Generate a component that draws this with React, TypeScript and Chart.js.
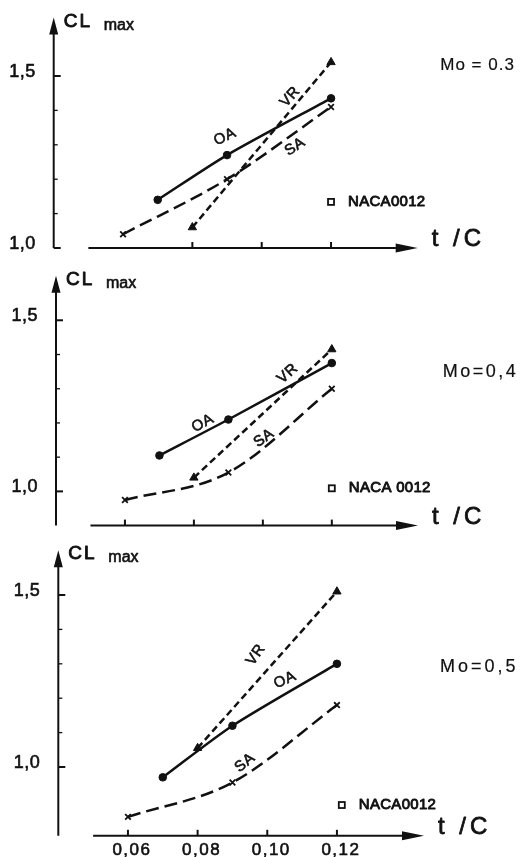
import React, { useEffect, useRef } from "react";
import { Chart, registerables } from "chart.js";

Chart.register(...registerables);

const INK = "#111111";
const FONT = '"Liberation Sans", Arial, Helvetica, sans-serif';

// Thickness ratios t/C of the tested profile families
const OA_T = [0.07, 0.09, 0.12];
const SA_T = [0.06, 0.09, 0.12];
const VR_T = [0.08, 0.12];

// CL max at Mo = 0.3
const OA_CL_M03 = [1.14, 1.27, 1.435];
const SA_CL_M03 = [1.04, 1.2, 1.41];
const VR_CL_M03 = [1.06, 1.54];
// CL max at Mo = 0.4
const OA_CL_M04 = [1.105, 1.21, 1.375];
const SA_CL_M04 = [0.975, 1.055, 1.3];
const VR_CL_M04 = [1.04, 1.415];
// CL max at Mo = 0.5
const OA_CL_M05 = [0.97, 1.12, 1.3];
const SA_CL_M05 = [0.855, 0.955, 1.18];
const VR_CL_M05 = [1.055, 1.51];

const SERIES_NAMES = ["OA", "SA", "VR"];
const MACH_LABELS = ["Mo = 0.3", "Mo=0,4", "Mo=0,5"];
const NACA_LABELS = ["NACA0012", "NACA 0012", "NACA0012"];

const Y_MAJOR = [1.0, 1.5];
const Y_MAJOR_TEXT = ["1,0", "1,5"];
const Y_MINOR = [1.1, 1.2, 1.3, 1.4];
const X_TICKS = [0.06, 0.08, 0.1, 0.12];
const X_TICK_TEXT = ["0,06", "0,08", "0,10", "0,12"];

const X_MIN = 0.04;
const X_MAX = 0.145;
const X_AXIS_START = 0.05;

type Tag = { i: number; x: number; y: number; a: number };
type Panel = {
  top: number;
  height: number;
  padding: { left: number; right: number; top: number; bottom: number };
  yMin: number;
  yMax: number;
  oa: number[];
  sa: number[];
  vr: number[];
  mach: string;
  machAt: [number, number];
  machSize: number;
  machSpacing: number;
  naca: string;
  nacaAt: [number, number];
  xTicks: number[];
  showXText: boolean;
  tags: Tag[];
};

const PANELS: Panel[] = [
  {
    top: 0,
    height: 270,
    padding: { left: 53.7, right: 103.3, top: 17.5, bottom: 22 },
    yMin: 1.0,
    yMax: 1.67,
    oa: OA_CL_M03,
    sa: SA_CL_M03,
    vr: VR_CL_M03,
    mach: MACH_LABELS[0],
    machAt: [0.1515, 1.53],
    machSize: 17,
    machSpacing: 1,
    naca: NACA_LABELS[0],
    nacaAt: [0.12, 1.134],
    xTicks: [0.08, 0.1, 0.12],
    showXText: false,
    tags: [
      { i: 0, x: 0.0894, y: 1.323, a: -25 },
      { i: 2, x: 0.1082, y: 1.439, a: -48 },
      { i: 1, x: 0.1096, y: 1.294, a: -33 },
    ],
  },
  {
    top: 270,
    height: 262,
    padding: { left: 56, right: 103, top: 3, bottom: 6.4 },
    yMin: 0.9,
    yMax: 1.63,
    oa: OA_CL_M04,
    sa: SA_CL_M04,
    vr: VR_CL_M04,
    mach: MACH_LABELS[1],
    machAt: [0.1522, 1.35],
    machSize: 18,
    machSpacing: 2.5,
    naca: NACA_LABELS[1],
    nacaAt: [0.12, 1.009],
    xTicks: X_TICKS,
    showXText: false,
    tags: [
      { i: 0, x: 0.0826, y: 1.199, a: -28 },
      { i: 2, x: 0.1072, y: 1.344, a: -42 },
      { i: 1, x: 0.1003, y: 1.156, a: -35 },
    ],
  },
  {
    top: 532,
    height: 325,
    padding: { left: 58.3, right: 97, top: 18.3, bottom: 21.2 },
    yMin: 0.8,
    yMax: 1.63,
    oa: OA_CL_M05,
    sa: SA_CL_M05,
    vr: VR_CL_M05,
    mach: MACH_LABELS[2],
    machAt: [0.1496, 1.29],
    machSize: 18,
    machSpacing: 3,
    naca: NACA_LABELS[2],
    nacaAt: [0.1214, 0.8895],
    xTicks: X_TICKS,
    showXText: true,
    tags: [
      { i: 2, x: 0.0967, y: 1.326, a: -55 },
      { i: 0, x: 0.1051, y: 1.253, a: -25 },
      { i: 1, x: 0.0936, y: 1.012, a: -40 },
    ],
  },
];

type TextOpts = {
  align?: CanvasTextAlign;
  baseline?: CanvasTextBaseline;
  ls?: number;
  angle?: number;
  heavy?: number;
};

function drawText(
  ctx: CanvasRenderingContext2D,
  s: string,
  x: number,
  y: number,
  size: number,
  o: TextOpts = {}
) {
  ctx.save();
  ctx.font = `normal ${size}px ${FONT}`;
  ctx.fillStyle = INK;
  ctx.strokeStyle = INK;
  ctx.textAlign = o.align || "left";
  ctx.textBaseline = o.baseline || "alphabetic";
  (ctx as any).letterSpacing = `${o.ls || 0}px`;
  ctx.translate(x, y);
  if (o.angle) ctx.rotate((o.angle * Math.PI) / 180);
  ctx.fillText(s, 0, 0);
  // a thin outline gives the lettering the weight of the printed labels
  const heavy = o.heavy === undefined ? 0.6 : o.heavy;
  if (heavy > 0) {
    ctx.lineWidth = heavy;
    ctx.lineJoin = "round";
    ctx.strokeText(s, 0, 0);
  }
  ctx.restore();
}

function makeDecor(p: Panel) {
  return {
    id: "decor",
    beforeDatasetsDraw(chart: any) {
      const ctx: CanvasRenderingContext2D = chart.ctx;
      const { left, right, top, bottom } = chart.chartArea;
      const xs = chart.scales.x;
      const ys = chart.scales.y;
      ctx.save();
      ctx.strokeStyle = INK;
      ctx.fillStyle = INK;
      ctx.lineWidth = 2;
      ctx.lineCap = "butt";

      // vertical axis with arrow head
      ctx.beginPath();
      ctx.moveTo(left, bottom);
      ctx.lineTo(left, top + 12);
      ctx.stroke();
      ctx.beginPath();
      ctx.moveTo(left, top);
      ctx.lineTo(left - 4.5, top + 17);
      ctx.lineTo(left + 4.5, top + 17);
      ctx.closePath();
      ctx.fill();

      // y ticks point inward
      for (const v of Y_MAJOR) {
        const y = ys.getPixelForValue(v);
        ctx.beginPath();
        ctx.moveTo(left, y);
        ctx.lineTo(left + 7, y);
        ctx.stroke();
      }
      ctx.lineWidth = 1.3;
      for (const v of Y_MINOR) {
        const y = ys.getPixelForValue(v);
        ctx.beginPath();
        ctx.moveTo(left, y);
        ctx.lineTo(left + 4, y);
        ctx.stroke();
      }

      // horizontal axis with arrow head
      ctx.lineWidth = 2;
      const x0 = xs.getPixelForValue(X_AXIS_START);
      ctx.beginPath();
      ctx.moveTo(x0, bottom);
      ctx.lineTo(right - 14, bottom);
      ctx.stroke();
      ctx.beginPath();
      ctx.moveTo(right, bottom);
      ctx.lineTo(right - 22, bottom - 4.5);
      ctx.lineTo(right - 22, bottom + 4.5);
      ctx.closePath();
      ctx.fill();

      for (const v of p.xTicks) {
        const x = xs.getPixelForValue(v);
        ctx.beginPath();
        ctx.moveTo(x, bottom);
        ctx.lineTo(x, bottom - 6);
        ctx.stroke();
      }
      ctx.restore();

      // tick labels
      Y_MAJOR.forEach((v, i) => {
        const y = ys.getPixelForValue(v);
        if (v < p.yMin) return;
        drawText(ctx, Y_MAJOR_TEXT[i], left - 18, y - 4, 18, {
          align: "right",
          baseline: "middle",
          ls: 0.5,
        });
      });
      if (p.showXText) {
        X_TICKS.forEach((v, i) => {
          const x = xs.getPixelForValue(v);
          drawText(ctx, X_TICK_TEXT[i], x + 4, bottom + 15, 17, {
            align: "center",
            baseline: "middle",
            ls: 1.5,
          });
        });
      }
    },
    afterDatasetsDraw(chart: any) {
      const ctx: CanvasRenderingContext2D = chart.ctx;
      const { left, right, top, bottom } = chart.chartArea;
      const xs = chart.scales.x;
      const ys = chart.scales.y;

      // axis titles
      drawText(ctx, "CL", left + 10, top + 9, 19, { ls: 2, heavy: 0.9 });
      drawText(ctx, "max", left + 50, top + 12, 16, { ls: 0 });
      drawText(ctx, "t /C", right + 14, bottom - 2, 24, { ls: 4, heavy: 0.8 });

      // Mach number of the panel
      drawText(
        ctx,
        p.mach,
        xs.getPixelForValue(p.machAt[0]),
        ys.getPixelForValue(p.machAt[1]),
        p.machSize,
        { baseline: "middle", ls: p.machSpacing, heavy: 0.2 }
      );

      // NACA 0012 reference key
      const nx = xs.getPixelForValue(p.nacaAt[0]);
      const ny = ys.getPixelForValue(p.nacaAt[1]);
      ctx.save();
      ctx.strokeStyle = INK;
      ctx.lineWidth = 1.8;
      ctx.strokeRect(nx - 3, ny - 3, 6, 6);
      ctx.restore();
      drawText(ctx, p.naca, nx + 17, ny, 15, { baseline: "middle", ls: 0.3, heavy: 0.9 });

      // curve names
      for (const t of p.tags) {
        drawText(
          ctx,
          SERIES_NAMES[t.i],
          xs.getPixelForValue(t.x),
          ys.getPixelForValue(t.y),
          15,
          { align: "center", baseline: "middle", angle: t.a, ls: 0.5 }
        );
      }
    },
  };
}

function toPoints(ts: number[], cl: number[]) {
  return ts.map((t, i) => ({ x: t, y: cl[i] }));
}

function PanelChart({ p }: { p: Panel }) {
  const ref = useRef<HTMLCanvasElement | null>(null);

  useEffect(() => {
    if (!ref.current) return;
    const common = {
      borderColor: INK,
      pointBackgroundColor: INK,
      pointBorderColor: INK,
      fill: false,
      clip: false as any,
    };
    const chart = new Chart(ref.current, {
      type: "line",
      data: {
        datasets: [
          {
            ...common,
            label: SERIES_NAMES[0],
            data: toPoints(OA_T, p.oa),
            borderWidth: 2.5,
            tension: 0.25,
            pointStyle: "circle",
            pointRadius: 3.8,
            pointBorderWidth: 1,
          },
          {
            ...common,
            label: SERIES_NAMES[1],
            data: toPoints(SA_T, p.sa),
            borderWidth: 2.5,
            borderDash: [13, 6],
            cubicInterpolationMode: "monotone",
            pointStyle: "crossRot",
            pointRadius: 4,
            pointBorderWidth: 1.8,
          },
          {
            ...common,
            label: SERIES_NAMES[2],
            data: toPoints(VR_T, p.vr),
            borderWidth: 2.5,
            borderDash: [7, 4],
            tension: 0,
            pointStyle: "triangle",
            pointRadius: 4.8,
            pointBorderWidth: 1,
          },
        ] as any,
      },
      options: {
        responsive: false,
        animation: false,
        events: [],
        layout: { padding: p.padding },
        scales: {
          x: { type: "linear", min: X_MIN, max: X_MAX, display: false },
          y: { type: "linear", min: p.yMin, max: p.yMax, display: false },
        },
        plugins: {
          legend: { display: false },
          tooltip: { enabled: false },
          title: { display: false },
        },
      },
      plugins: [makeDecor(p)],
    });
    return () => chart.destroy();
  }, [p]);

  return (
    <canvas
      ref={ref}
      width={521}
      height={p.height}
      style={{
        position: "absolute",
        left: 0,
        top: p.top,
        width: 521,
        height: p.height,
        display: "block",
      }}
    />
  );
}

export default function App() {
  return (
    <div
      style={{
        position: "absolute",
        left: 0,
        top: 0,
        width: 521,
        height: 857,
        background: "#ffffff",
        overflow: "hidden",
      }}
    >
      {PANELS.map((p, i) => (
        <PanelChart key={i} p={p} />
      ))}
    </div>
  );
}
